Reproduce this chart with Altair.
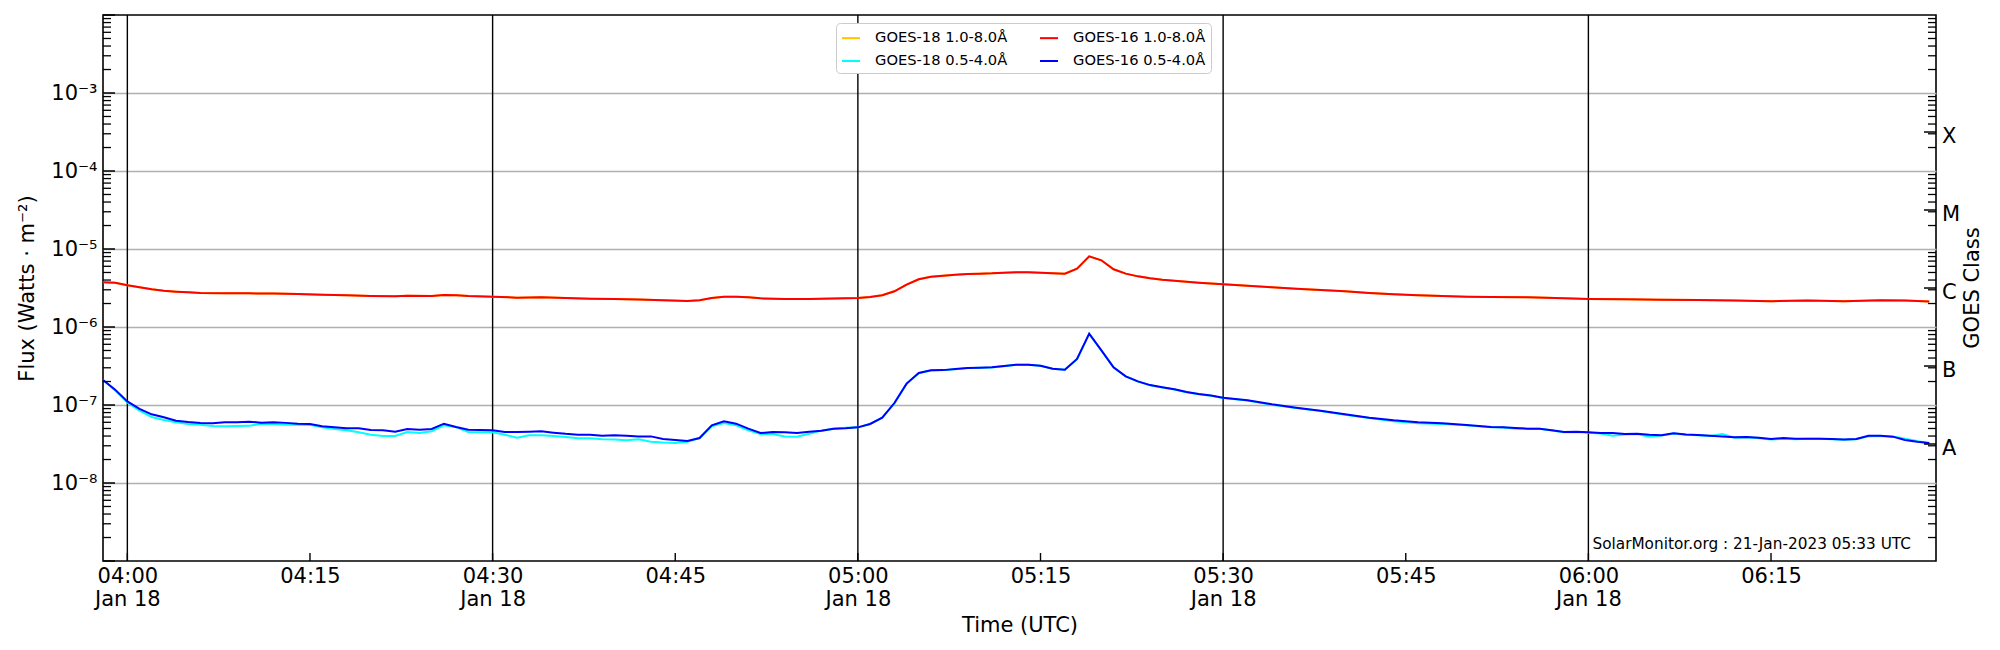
import altair as alt
import pandas as pd

T0_MS = 1674014400000   # 2023-01-18 04:00:00 UTC
MIN_MS = 60000

# ---------------- data ----------------
# minutes after 04:00 UTC, flux values
g16_long_min = [-2, -1, 0, 1, 2, 3, 4, 5, 6, 8, 10, 12, 14, 16, 18, 20, 22, 23, 25, 26, 27, 28,
                30, 32, 34, 36, 38, 40, 42, 44, 46, 47, 48, 49, 50, 51, 52, 54, 56, 58, 60,
                61, 62, 63, 64, 65, 66, 67, 68, 69, 70, 71, 72, 73, 74, 76, 77, 78, 79, 80, 81,
                82, 83, 84, 85, 86, 88, 90, 92, 94, 96, 98, 100, 102, 104, 106, 108, 110, 112,
                115, 118, 120, 123, 126, 129, 132, 135, 138, 141, 144, 146, 148]
# x 1e-6 W m^-2
g16_long_e6 = [3.74, 3.70, 3.42, 3.23, 3.04, 2.92, 2.84, 2.78, 2.72, 2.70, 2.70, 2.68, 2.65, 2.60,
               2.55, 2.50, 2.47, 2.52, 2.50, 2.57, 2.55, 2.50, 2.45, 2.38, 2.40, 2.35, 2.31, 2.29,
               2.26, 2.20, 2.16, 2.20, 2.35, 2.45, 2.45, 2.40, 2.33, 2.29, 2.29, 2.32, 2.35, 2.42,
               2.55, 2.87, 3.49, 4.09, 4.42, 4.55, 4.69, 4.78, 4.83, 4.88, 4.97, 5.02, 5.02, 4.88,
               4.83, 5.60, 8.05, 7.16, 5.49, 4.83, 4.46, 4.21, 4.04, 3.93, 3.70, 3.52, 3.38, 3.23,
               3.10, 2.98, 2.87, 2.73, 2.62, 2.55, 2.50, 2.45, 2.42, 2.40, 2.33, 2.29, 2.27, 2.24,
               2.22, 2.18, 2.14, 2.18, 2.14, 2.20, 2.18, 2.12]
# GOES-18 long channel lies under the GOES-16 one
g18_long_e6 = [3.74, 3.70, 3.42, 3.23, 3.04, 2.92, 2.84, 2.78, 2.72, 2.70, 2.70, 2.68, 2.65, 2.60,
               2.55, 2.50, 2.47, 2.52, 2.50, 2.57, 2.55, 2.50, 2.45, 2.38, 2.40, 2.35, 2.31, 2.29,
               2.26, 2.20, 2.16, 2.20, 2.35, 2.45, 2.45, 2.40, 2.33, 2.29, 2.29, 2.32, 2.35, 2.42,
               2.55, 2.87, 3.49, 4.09, 4.42, 4.55, 4.69, 4.78, 4.83, 4.88, 4.97, 5.02, 5.02, 4.88,
               4.83, 5.60, 8.05, 7.16, 5.49, 4.83, 4.46, 4.21, 4.04, 3.93, 3.70, 3.52, 3.38, 3.23,
               3.10, 2.98, 2.87, 2.73, 2.62, 2.55, 2.50, 2.45, 2.42, 2.40, 2.33, 2.29, 2.27, 2.24,
               2.22, 2.18, 2.14, 2.18, 2.14, 2.20, 2.18, 2.12]

# 1-minute samples (2-minute between 05:30 and 05:52)
short_min = list(range(-2, 91)) + list(range(92, 113, 2)) + list(range(113, 149))
# x 1e-7 W m^-2
g16_short_e7 = [2.09, 1.57, 1.11, 0.89, 0.76, 0.695, 0.63, 0.605, 0.588, 0.583,
                0.60, 0.60, 0.611, 0.594, 0.60, 0.59, 0.576, 0.57, 0.533, 0.517,
                0.502, 0.502, 0.478, 0.475, 0.455, 0.493, 0.483, 0.493, 0.576, 0.522,
                0.483, 0.478, 0.473, 0.45, 0.45, 0.455, 0.46, 0.442, 0.427, 0.417,
                0.417, 0.404, 0.408, 0.404, 0.396, 0.396, 0.367, 0.356, 0.345, 0.377,
                0.549, 0.617, 0.576, 0.497, 0.437, 0.45, 0.446, 0.437, 0.455, 0.469,
                0.497, 0.502, 0.517, 0.571, 0.688, 1.06, 1.88, 2.57, 2.78, 2.80,
                2.89, 2.98, 3.00, 3.04, 3.16, 3.29, 3.29, 3.19, 2.92, 2.84,
                3.89, 8.21, 5.02, 3.04, 2.33, 2.01, 1.80, 1.69, 1.59, 1.47,
                1.38, 1.32, 1.24,
                1.15, 1.02, 0.924, 0.846, 0.759, 0.688, 0.636, 0.60, 0.583, 0.554, 0.522,
                0.517, 0.507, 0.497, 0.497, 0.473, 0.45, 0.455, 0.446, 0.437, 0.437,
                0.425, 0.429, 0.417, 0.409, 0.433, 0.42, 0.412, 0.404, 0.396, 0.385,
                0.389, 0.381, 0.367, 0.377, 0.37, 0.37, 0.37, 0.367, 0.36, 0.367,
                0.404, 0.404, 0.393, 0.356, 0.339, 0.326]
g18_short_e7 = [2.09, 1.54, 1.08, 0.846, 0.702, 0.642, 0.60, 0.57, 0.56, 0.538,
                0.533, 0.538, 0.54, 0.576, 0.57, 0.56, 0.56, 0.556, 0.517, 0.493,
                0.473, 0.446, 0.416, 0.40, 0.40, 0.45, 0.437, 0.46, 0.549, 0.52,
                0.45, 0.446, 0.446, 0.416, 0.381, 0.409, 0.409, 0.40, 0.39, 0.374,
                0.374, 0.363, 0.36, 0.352, 0.363, 0.339, 0.33, 0.326, 0.339, 0.377,
                0.533, 0.588, 0.549, 0.473, 0.425, 0.425, 0.396, 0.393, 0.429, 0.469,
                0.497, 0.51, 0.517, 0.57, 0.685, 1.05, 1.87, 2.56, 2.77, 2.80,
                2.88, 2.97, 3.00, 3.03, 3.15, 3.28, 3.28, 3.18, 2.91, 2.83,
                3.87, 8.15, 5.00, 3.03, 2.32, 2.00, 1.79, 1.68, 1.58, 1.46,
                1.37, 1.31, 1.23,
                1.14, 1.01, 0.915, 0.84, 0.752, 0.68, 0.62, 0.585, 0.57, 0.548, 0.52,
                0.515, 0.497, 0.495, 0.495, 0.47, 0.448, 0.45, 0.44, 0.43, 0.404,
                0.42, 0.425, 0.393, 0.405, 0.43, 0.415, 0.41, 0.40, 0.425, 0.38,
                0.385, 0.375, 0.36, 0.37, 0.365, 0.368, 0.368, 0.365, 0.358, 0.365,
                0.396, 0.40, 0.396, 0.37, 0.345, 0.32]

# legend order (filled column by column)
series_names = ["GOES-18 1.0-8.0Å", "GOES-18 0.5-4.0Å", "GOES-16 1.0-8.0Å", "GOES-16 0.5-4.0Å"]
series_colors = ["#ffc400", "#00ffff", "#ff0000", "#0000ff"]

decades = [1e-9, 1e-8, 1e-7, 1e-6, 1e-5, 1e-4, 1e-3, 1e-2]
labelled_decades = [1e-8, 1e-7, 1e-6, 1e-5, 1e-4, 1e-3]
class_labels = ["A", "B", "C", "M", "X"]
class_levels = [3.16e-8, 3.16e-7, 3.16e-6, 3.16e-5, 3.16e-4]
vline_min = [0, 30, 60, 90, 120]
xtick_min = [0, 15, 30, 45, 60, 75, 90, 105, 120, 135]
footer = "SolarMonitor.org : 21-Jan-2023 05:33 UTC"

# ---------------- build tables ----------------
assert len(g16_long_min) == len(g16_long_e6) == len(g18_long_e6)
assert len(short_min) == len(g16_short_e7) == len(g18_short_e7)


def series_df(mins, vals, scale, name):
    return pd.DataFrame({"t": [T0_MS + m * MIN_MS for m in mins],
                         "v": [x * scale for x in vals],
                         "s": name})


df_g18_long = series_df(g16_long_min, g18_long_e6, 1e-6, "GOES-18 1.0-8.0Å")
df_g16_long = series_df(g16_long_min, g16_long_e6, 1e-6, "GOES-16 1.0-8.0Å")
df_g18_short = series_df(short_min, g18_short_e7, 1e-7, "GOES-18 0.5-4.0Å")
df_g16_short = series_df(short_min, g16_short_e7, 1e-7, "GOES-16 0.5-4.0Å")

minor_levels = [m * d for d in decades[:-1] for m in range(2, 10)]

W, H = 1833, 546

xscale = alt.Scale(type="utc", domain=[T0_MS - 2 * MIN_MS, T0_MS + int(148.55 * MIN_MS)])
yscale = alt.Scale(type="log", domain=[1e-9, 1e-2])

xaxis = alt.Axis(
    values=[T0_MS + m * MIN_MS for m in xtick_min],
    labelExpr="utcminutes(datum.value) % 30 == 0 ? [utcFormat(datum.value, '%H:%M'), utcFormat(datum.value, '%b %d')] : utcFormat(datum.value, '%H:%M')",
    labelFontSize=21, labelPadding=4, labelLineHeight=23.3, labelBaseline="top",
    labelAlign="center", labelFlush=False, labelOverlap=False, labelColor="black",
    ticks=False, domain=False, grid=False,
    title="Time (UTC)", titleFontSize=21, titleFontWeight="normal", titleColor="black",
    titleY=70, titleBaseline="alphabetic",
)
yaxis = alt.Axis(
    values=labelled_decades,
    labelExpr="'10⁻' + ['⁰','¹','²','³','⁴','⁵','⁶','⁷','⁸','⁹'][abs(round(log(datum.value) / LN10))]",
    labelFontSize=21, labelPadding=6, labelColor="black", labelBaseline="middle",
    ticks=False, domain=False, grid=True, gridColor="#b0b0b0", gridWidth=1.6,
    title="Flux (Watts · m⁻²)", titleFontSize=21, titleFontWeight="normal", titleColor="black",
    titleX=-76, titleY=H / 2, titleAngle=270, titleAlign="center", titleBaseline="middle",
)

X = alt.X("t:T", scale=xscale, axis=xaxis)
Y = alt.Y("v:Q", scale=yscale, axis=yaxis)
C = alt.Color("s:N", scale=alt.Scale(domain=series_names, range=series_colors),
              legend=alt.Legend(title=None, orient="none", legendX=733, legendY=8, columns=2,
                                symbolType="stroke", symbolStrokeWidth=2, symbolSize=324,
                                labelFontSize=14.7, labelOffset=14, columnPadding=28,
                                rowPadding=6, padding=5, fillColor="white",
                                strokeColor="#cccccc", cornerRadius=4, labelColor="black",
                                labelLimit=300))


def line_layer(df):
    return alt.Chart(df).mark_line(strokeWidth=2, clip=True).encode(x=X, y=Y, color=C)


vlines = alt.Chart(pd.DataFrame({"t": [T0_MS + m * MIN_MS for m in vline_min]})).mark_rule(
    color="black", strokeWidth=1.4).encode(x=X, y=alt.value(0), y2=alt.value(H))

xticks = alt.Chart(pd.DataFrame({"t": [T0_MS + m * MIN_MS for m in xtick_min]})).mark_rule(
    color="black", strokeWidth=1.4).encode(x=X, y=alt.value(H - 8), y2=alt.value(H))

df_dec = pd.DataFrame({"v": decades})
df_minor = pd.DataFrame({"v": minor_levels})
df_class = pd.DataFrame({"v": class_levels, "lab": class_labels})

left_major = alt.Chart(df_dec).mark_rule(color="black", strokeWidth=1.5).encode(
    y=Y, x=alt.value(0), x2=alt.value(12))
left_minor = alt.Chart(df_minor).mark_rule(color="black", strokeWidth=1.3).encode(
    y=Y, x=alt.value(0), x2=alt.value(8))
right_minor = alt.Chart(df_minor).mark_rule(color="black", strokeWidth=1.3).encode(
    y=Y, x=alt.value(W - 8), x2=alt.value(W))
right_major = alt.Chart(df_class).mark_rule(color="black", strokeWidth=1.5).encode(
    y=Y, x=alt.value(W - 12), x2=alt.value(W))

class_text = alt.Chart(df_class).mark_text(
    align="left", baseline="middle", fontSize=21, color="black", dy=5).encode(
    y=Y, x=alt.value(W + 6), text="lab:N")

class_title = alt.Chart(pd.DataFrame({"lab": ["GOES Class"]})).mark_text(
    align="center", baseline="middle", fontSize=21, angle=270, color="black").encode(
    x=alt.value(W + 37), y=alt.value(H / 2), text="lab:N")

footer_text = alt.Chart(pd.DataFrame({"lab": [footer]})).mark_text(
    align="right", baseline="alphabetic", fontSize=15.3, color="black").encode(
    x=alt.value(W - 25), y=alt.value(H - 12), text="lab:N")

chart = alt.layer(
    vlines,
    line_layer(df_g18_long),
    line_layer(df_g18_short),
    line_layer(df_g16_long),
    line_layer(df_g16_short),
    xticks, left_major, left_minor, right_minor, right_major,
    class_text, class_title, footer_text,
).properties(
    width=W, height=H,
    padding={"left": 95, "top": 7, "right": 56, "bottom": 80},
    autosize=alt.AutoSizeParams(type="none"),
).configure(
    font="DejaVu Sans",
).configure_view(
    stroke="black", strokeWidth=1.6,
)

chart.save("out.html", embed_options={"renderer": "svg", "actions": False})
